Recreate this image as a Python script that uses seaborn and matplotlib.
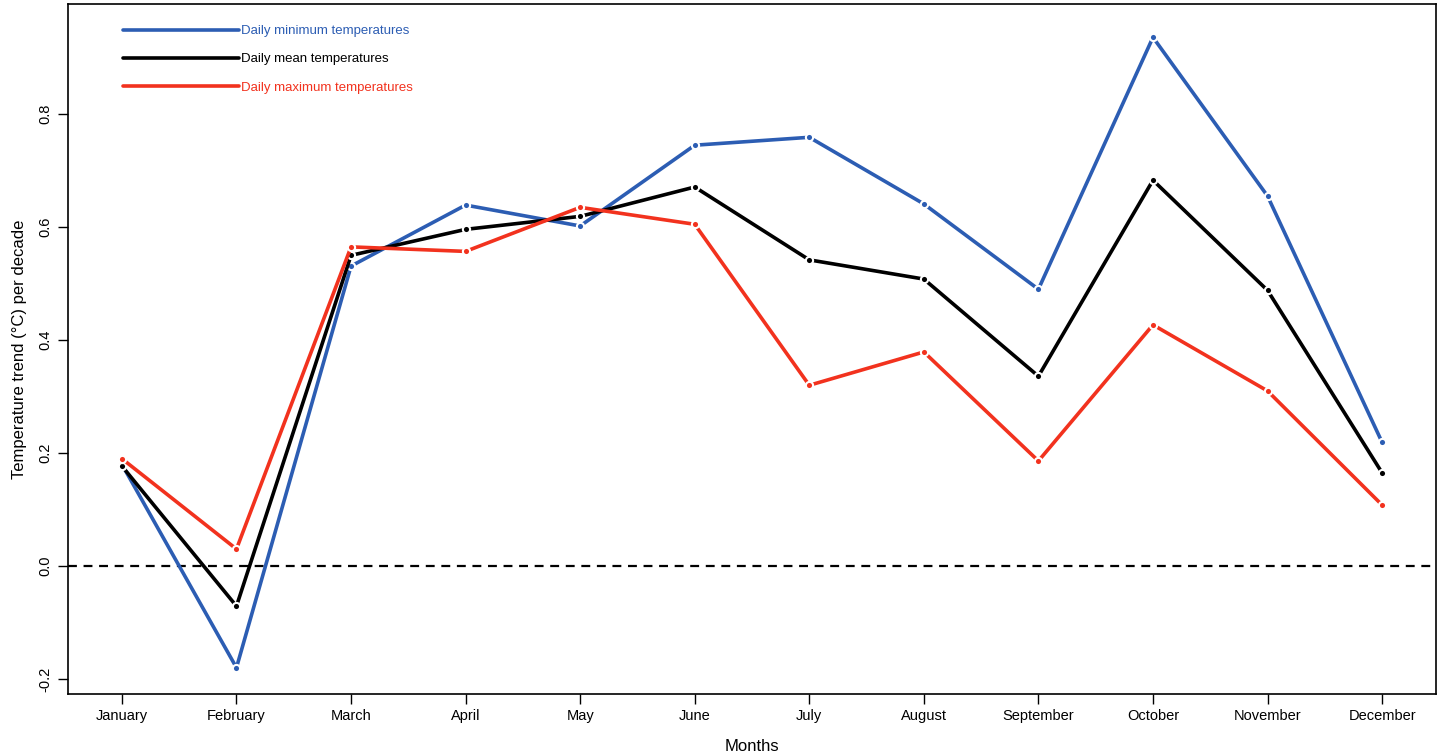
import matplotlib
matplotlib.use("Agg")
import matplotlib.pyplot as plt
import seaborn as sns
import pandas as pd
from matplotlib.lines import Line2D

months = ["January", "February", "March", "April", "May", "June", "July",
          "August", "September", "October", "November", "December"]
tmin = [0.18, -0.18, 0.531, 0.639, 0.602, 0.745, 0.759, 0.641, 0.490, 0.936, 0.655, 0.219]
tmean = [0.177, -0.071, 0.550, 0.596, 0.619, 0.671, 0.542, 0.508, 0.336, 0.683, 0.488, 0.165]
tmax = [0.190, 0.030, 0.565, 0.557, 0.635, 0.605, 0.320, 0.379, 0.186, 0.427, 0.310, 0.108]
series_names = ["Daily minimum temperatures", "Daily mean temperatures", "Daily maximum temperatures"]
colors = ["#2C5DB3", "#000000", "#F2321E"]

rows = []
for name, vals in zip(series_names, [tmin, tmean, tmax]):
    for i, v in enumerate(vals):
        rows.append({"month": i + 1, "value": v, "series": name})
df = pd.DataFrame(rows)

sns.set_style("white")
plt.rcParams['font.family'] = ['Liberation Sans', 'DejaVu Sans']
plt.rcParams['text.color'] = 'black'
plt.rcParams['axes.labelcolor'] = 'black'
plt.rcParams['xtick.color'] = 'black'
plt.rcParams['ytick.color'] = 'black'

fig = plt.figure(figsize=(14.42, 7.53), dpi=100)
ax = fig.add_axes([0.0472, 0.0784, 0.9486, 0.9163])

sns.lineplot(data=df, x="month", y="value", hue="series", hue_order=series_names,
             palette=colors, lw=2.6, marker="o", markersize=5.2,
             markeredgecolor="white", markeredgewidth=1.5, ax=ax, legend=False)

ax.axhline(0, color="black", ls=(0, (4, 3)), lw=1.6, zorder=1)

ax.set_xlim(0.53, 12.47)
ax.set_ylim(-0.2265, 0.995)
ax.set_xticks(range(1, 13))
ax.set_xticklabels(months, fontsize=10.5)
ax.set_yticks([-0.2, 0.0, 0.2, 0.4, 0.6, 0.8])
ax.set_yticklabels(["-0.2", "0.0", "0.2", "0.4", "0.6", "0.8"], fontsize=10.5, rotation=90, va="center")
ax.tick_params(axis="both", direction="out", length=7, width=1, color="black", left=True, bottom=True, pad=4)
for s in ax.spines.values():
    s.set_color("black")
    s.set_linewidth(1.2)

ax.set_xlabel("Months", fontsize=12)
ax.set_ylabel("Temperature trend (°C) per decade", fontsize=12)
ax.xaxis.set_label_coords(0.5, -0.065)
ax.yaxis.set_label_coords(-0.030, 0.5)

handles = [Line2D([0], [0], color=c, lw=2.6) for c in colors]
leg = ax.legend(handles, series_names, loc="upper left", bbox_to_anchor=(0.036, 0.977),
                frameon=False, fontsize=9.5, handlelength=8.85, handletextpad=0.1,
                labelspacing=1.2, labelcolor=colors, borderaxespad=0)

fig.savefig("out.png", dpi=100)
